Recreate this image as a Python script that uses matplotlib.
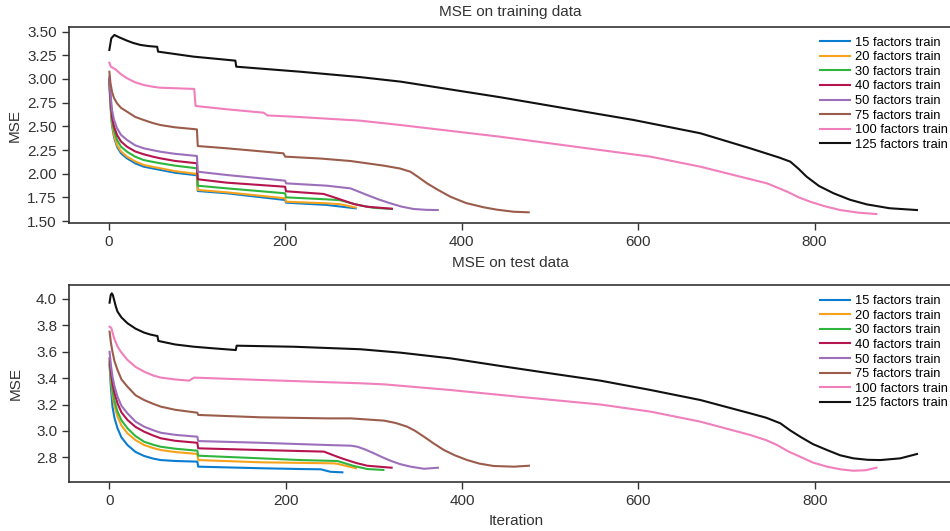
import matplotlib
matplotlib.use("Agg")
import matplotlib.pyplot as plt

plt.rcParams['font.family'] = ['Liberation Sans', 'DejaVu Sans']

labels = ["15 factors train", "20 factors train", "30 factors train", "40 factors train",
          "50 factors train", "75 factors train", "100 factors train", "125 factors train"]
colors = ["#0a7dd1", "#f7a21b", "#2fb53d", "#b5144f", "#9c6fba", "#9b5c4b", "#f07fbb", "#111111"]

# ---------------- training data (top panel) ----------------
early_x = [0.8, 2, 3.8, 6, 9.5, 14, 20.8, 30, 39.7, 50, 58.6, 75, 100]
tr15_x = early_x + [101, 134, 200, 201, 247, 280]
tr15_y = [2.95, 2.72, 2.51, 2.39, 2.285, 2.215, 2.162, 2.11, 2.074, 2.055, 2.04, 2.01, 1.983,
          1.817, 1.793, 1.722, 1.694, 1.67, 1.634]
tr20_x = early_x + [101, 134, 200, 201, 247, 262, 280]
tr20_y = [2.97, 2.74, 2.532, 2.41, 2.303, 2.235, 2.18, 2.13, 2.092, 2.072, 2.057, 2.027, 1.997,
          1.828, 1.803, 1.74, 1.704, 1.687, 1.678, 1.642]
tr30_x = early_x + [101, 134, 200, 201, 247, 262, 285, 300, 321]
tr30_y = [2.99, 2.78, 2.567, 2.46, 2.356, 2.285, 2.232, 2.18, 2.144, 2.125, 2.11, 2.085, 2.057,
          1.873, 1.845, 1.793, 1.75, 1.729, 1.72, 1.665, 1.64, 1.627]
tr40_x = early_x + [101, 134, 200, 201, 243.6, 258.8, 277.6, 292.8, 321]
tr40_y = [3.0, 2.8, 2.602, 2.50, 2.409, 2.34, 2.285, 2.235, 2.205, 2.18, 2.162, 2.135, 2.11,
          1.941, 1.905, 1.862, 1.814, 1.786, 1.74, 1.68, 1.651, 1.63]
tr50_x = early_x + [101, 134, 200, 201, 247.5, 274, 283, 292.8, 306, 319.2, 332, 345.6, 360, 373]
tr50_y = [3.025, 2.85, 2.673, 2.57, 2.48, 2.41, 2.356, 2.30, 2.268, 2.248, 2.232, 2.21, 2.187,
          2.021, 1.986, 1.926, 1.898, 1.873, 1.845, 1.812, 1.775, 1.728, 1.687, 1.652, 1.627, 1.618, 1.616]
tr75_x = early_x + [101, 134, 198, 200, 240, 274, 311.6, 330, 341.9, 350, 360.8, 373, 387.2, 405, 425, 440, 459, 476]
tr75_y = [3.077, 2.96, 2.866, 2.80, 2.743, 2.695, 2.655, 2.60, 2.567, 2.535, 2.514, 2.49, 2.468,
          2.292, 2.268, 2.215, 2.18, 2.16, 2.134, 2.085, 2.055, 2.021, 1.97, 1.898, 1.83, 1.757, 1.69,
          1.645, 1.62, 1.598, 1.592]
tr100_x = [0.8, 2.5, 7.6, 14, 20.8, 30, 39.7, 50, 58.6, 97, 98.5, 134, 175.6, 180, 209.6, 285, 330.5, 444, 557,
           614, 670.5, 746, 769, 782, 795, 812, 829, 850, 870]
tr100_y = [3.172, 3.13, 3.103, 3.05, 3.008, 2.965, 2.937, 2.918, 2.908, 2.895, 2.715, 2.68, 2.644, 2.615, 2.602,
           2.56, 2.514, 2.39, 2.25, 2.18, 2.074, 1.898, 1.81, 1.75, 1.704, 1.655, 1.616, 1.588, 1.574]
tr125_x = [0.8, 3, 6.5, 12, 20.8, 28, 35.9, 45, 55, 56, 96.3, 143.6, 144.6, 217, 285, 331, 444, 557, 595,
           670.5, 727, 760, 772.5, 782, 791, 805, 821.5, 840, 859, 885, 916]
tr125_y = [3.307, 3.43, 3.465, 3.44, 3.405, 3.38, 3.36, 3.348, 3.34, 3.289, 3.236, 3.194, 3.13, 3.077, 3.02,
           2.972, 2.807, 2.627, 2.567, 2.427, 2.268, 2.17, 2.127, 2.05, 1.968, 1.87, 1.793, 1.725, 1.676,
           1.635, 1.616]

# ---------------- test data (bottom panel) ----------------
early_xb = [0.5, 2, 3.8, 6, 9.5, 14, 20.8, 30, 39.7, 50, 58.6, 75, 100]
te15_x = early_xb + [101, 172, 217, 240, 251, 264.5]
te15_y = [3.5, 3.33, 3.184, 3.1, 3.02, 2.95, 2.893, 2.84, 2.81, 2.79, 2.779, 2.772, 2.767,
          2.729, 2.717, 2.711, 2.709, 2.69, 2.686]
te20_x = early_xb + [101, 172, 255, 259, 277.6, 280]
te20_y = [3.512, 3.39, 3.272, 3.19, 3.108, 3.04, 2.982, 2.93, 2.893, 2.87, 2.855, 2.84, 2.825,
          2.779, 2.762, 2.754, 2.75, 2.721, 2.717]
te30_x = early_xb + [101, 172, 217, 258.8, 277.6, 292.8, 311]
te30_y = [3.525, 3.42, 3.31, 3.23, 3.146, 3.08, 3.02, 2.96, 2.918, 2.895, 2.88, 2.865, 2.85,
          2.812, 2.792, 2.779, 2.772, 2.734, 2.711, 2.704]
te40_x = early_xb + [101, 172, 243.6, 258.8, 266, 280, 292.8, 320.3]
te40_y = [3.55, 3.45, 3.361, 3.29, 3.209, 3.14, 3.083, 3.03, 2.994, 2.965, 2.944, 2.925, 2.91,
          2.868, 2.855, 2.843, 2.804, 2.787, 2.757, 2.736, 2.721]
te50_x = early_xb + [101, 172, 247.5, 274, 281.5, 290, 300.3, 310, 319, 330, 341.9, 357, 372.8]
te50_y = [3.6, 3.50, 3.411, 3.34, 3.259, 3.19, 3.133, 3.07, 3.032, 3.005, 2.986, 2.97, 2.956,
          2.923, 2.91, 2.893, 2.888, 2.88, 2.86, 2.83, 2.8, 2.774, 2.748, 2.729, 2.713, 2.721]
te75_x = early_xb + [101, 172, 247.5, 273.8, 311.6, 325, 338, 347, 357, 368, 379.6, 392, 406, 420, 436, 459, 476]
te75_y = [3.752, 3.67, 3.6, 3.53, 3.462, 3.39, 3.335, 3.27, 3.234, 3.205, 3.184, 3.16, 3.138,
          3.121, 3.103, 3.095, 3.095, 3.078, 3.06, 3.032, 3.0, 2.956, 2.905, 2.855, 2.815, 2.779, 2.752,
          2.734, 2.729, 2.736]
te100_x = [0.5, 2.5, 5.7, 9.5, 13.3, 20.8, 30, 39.7, 50, 58.6, 75, 90.7, 96.3, 171.9, 285, 311.6, 387, 462.8,
           557, 614, 670.5, 727, 745, 757.4, 770, 783.6, 798, 814, 830, 844, 858, 870]
te100_y = [3.79, 3.78, 3.702, 3.64, 3.6, 3.538, 3.485, 3.449, 3.42, 3.404, 3.39, 3.381, 3.404, 3.386, 3.361,
           3.353, 3.31, 3.26, 3.2, 3.146, 3.07, 2.969, 2.93, 2.893, 2.845, 2.804, 2.76, 2.729, 2.708, 2.698,
           2.702, 2.721]
te125_x = [0.5, 1.8, 3, 4.2, 5.7, 7.5, 9.5, 14, 20.8, 30, 39.7, 47, 54.8, 55.8, 75, 96.3, 120, 143.6, 144.6,
           209.6, 285, 330.5, 387.2, 444, 500.5, 557, 614, 670.5, 727, 745, 761, 772, 783.6, 798, 814, 829,
           844, 860, 874.4, 897, 916]
te125_y = [3.972, 4.03, 4.043, 4.03, 3.992, 3.945, 3.904, 3.86, 3.816, 3.775, 3.745, 3.73, 3.719, 3.682, 3.655,
           3.638, 3.625, 3.613, 3.646, 3.638, 3.619, 3.593, 3.55, 3.492, 3.436, 3.381, 3.31, 3.234, 3.133,
           3.1, 3.058, 3.005, 2.956, 2.9, 2.855, 2.815, 2.792, 2.781, 2.779, 2.792, 2.825]

train = [(tr15_x, tr15_y), (tr20_x, tr20_y), (tr30_x, tr30_y), (tr40_x, tr40_y),
         (tr50_x, tr50_y), (tr75_x, tr75_y), (tr100_x, tr100_y), (tr125_x, tr125_y)]
test = [(te15_x, te15_y), (te20_x, te20_y), (te30_x, te30_y), (te40_x, te40_y),
        (te50_x, te50_y), (te75_x, te75_y), (te100_x, te100_y), (te125_x, te125_y)]

x_ticks = [0, 200, 400, 600, 800]
top_yticks = [1.50, 1.75, 2.00, 2.25, 2.50, 2.75, 3.00, 3.25, 3.50]
bot_yticks = [2.8, 3.0, 3.2, 3.4, 3.6, 3.8, 4.0]

W, H = 950, 531
fig = plt.figure(figsize=(9.5, 5.31), dpi=100)
ax1 = fig.add_axes([68.5 / W, 1 - 223.3 / H, (958 - 68.5) / W, (223.3 - 27.3) / H])
ax2 = fig.add_axes([69 / W, 1 - 481.7 / H, (958 - 69) / W, (481.7 - 285) / H])

tc = "#333333"
for ax, data, yt, ylim, fmt, legy in [
        (ax1, train, top_yticks, (1.476, 3.546), "{:.2f}", 1 - 36.5 / H),
        (ax2, test, bot_yticks, (2.615, 4.106), "{:.1f}", 1 - 295.0 / H)]:
    for (xs, ys), c, lab in zip(data, colors, labels):
        ax.plot(xs, ys, color=c, lw=1.5, label=lab, solid_joinstyle='round')
    ax.set_xlim(-45.5, 962.5)
    ax.set_ylim(*ylim)
    ax.set_xticks(x_ticks)
    ax.set_xticklabels([str(v) for v in x_ticks])
    ax.set_yticks(yt)
    ax.set_yticklabels([fmt.format(v) for v in yt])
    ax.tick_params(axis='both', direction='out', length=5, width=1, colors=tc,
                   labelsize=11, labelcolor=tc, top=False, right=False)
    for s in ax.spines.values():
        s.set_color(tc)
        s.set_linewidth(1.2)
    ax.set_ylabel("MSE", fontsize=11, color=tc)
    ax.yaxis.set_label_coords(-0.052, 0.5)
    ax.legend(loc='upper left', bbox_to_anchor=(820.0 / W, legy), bbox_transform=fig.transFigure,
              frameon=False, fontsize=9.3, handlelength=2.33, handletextpad=0.39, labelspacing=0.2,
              borderpad=0, borderaxespad=0)

fig.text(510 / W, 1 - 12 / H, "MSE on training data", ha='center', va='center', fontsize=11, color=tc)
fig.text(510 / W, 1 - 263 / H, "MSE on test data", ha='center', va='center', fontsize=11, color=tc)
fig.text(516 / W, 1 - 521 / H, "Iteration", ha='center', va='center', fontsize=11, color=tc)

fig.savefig("out.png", dpi=100)
